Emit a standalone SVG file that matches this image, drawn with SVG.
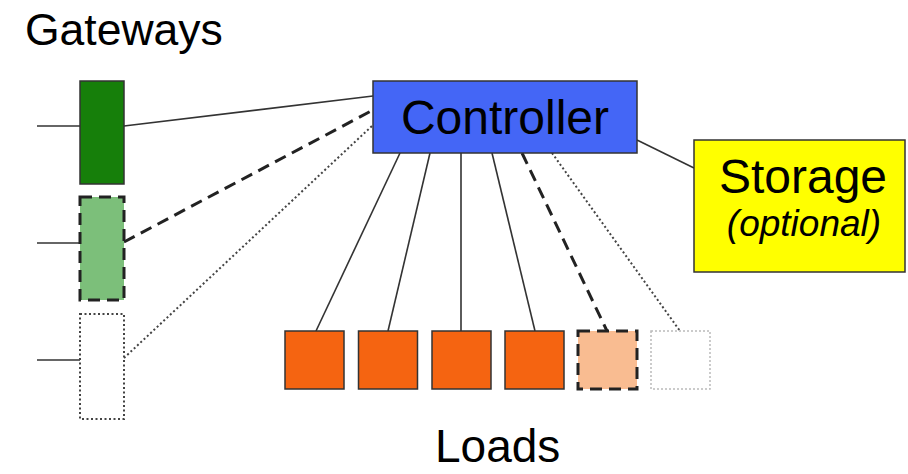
<svg xmlns="http://www.w3.org/2000/svg" width="908" height="474" viewBox="0 0 908 474">
<style>
text{font-family:"Liberation Sans",Arial,sans-serif;fill:#000}
.solid{stroke:#333;stroke-width:1.6;fill:none}
.dash{stroke:#222;stroke-width:3;stroke-dasharray:12,7;fill:none}
.dot{stroke:#444;stroke-width:2;stroke-dasharray:2,2.5;fill:none}
.box{stroke:#333;stroke-width:1.5}
</style>
<rect width="908" height="474" fill="#fff"/>
<text x="25" y="45" font-size="44.5">Gateways</text>
<text x="435" y="462" font-size="46">Loads</text>
<g id="connectors">
<line class="solid" x1="37" y1="126" x2="80" y2="126"/>
<line class="solid" x1="37" y1="243" x2="80" y2="243"/>
<line class="solid" x1="37" y1="360" x2="80" y2="360"/>
<line class="solid" x1="124" y1="126" x2="373" y2="96"/>
<line class="dash" x1="124" y1="242" x2="373" y2="110"/>
<line class="dot" x1="124" y1="358" x2="373" y2="125"/>
<line class="solid" x1="637" y1="140" x2="694" y2="168"/>
<line class="solid" x1="400" y1="153" x2="316" y2="331"/>
<line class="solid" x1="430" y1="153" x2="388" y2="331"/>
<line class="solid" x1="461" y1="153" x2="461" y2="331"/>
<line class="solid" x1="492" y1="153" x2="535" y2="331"/>
<line class="dash" x1="522" y1="153" x2="607" y2="331"/>
<line class="dot" x1="552" y1="153" x2="680" y2="331"/>
</g>
<g id="gateway1"><rect class="box" x="80" y="81" width="44" height="103" fill="#167f0a"/></g>
<g id="gateway2"><rect x="80" y="197" width="44" height="103" fill="#7cbf7a" stroke="#222" stroke-width="3" stroke-dasharray="12,7"/></g>
<g id="gateway3"><rect x="80" y="314" width="44" height="105" fill="#fff" stroke="#444" stroke-width="2" stroke-dasharray="2,2.5"/></g>
<g id="controller">
<rect class="box" x="373" y="81" width="264" height="72" fill="#4466f6"/>
<text x="505" y="134" font-size="48" text-anchor="middle">Controller</text>
</g>
<g id="storage">
<rect class="box" x="694" y="140" width="211" height="132" fill="#ffff00"/>
<text x="803" y="193" font-size="48" text-anchor="middle">Storage</text>
<text x="804" y="236" font-size="37" font-style="italic" text-anchor="middle">(optional)</text>
</g>
<g id="load1"><rect class="box" x="285" y="331" width="59" height="58" fill="#f56411"/></g>
<g id="load2"><rect class="box" x="358.5" y="331" width="59" height="58" fill="#f56411"/></g>
<g id="load3"><rect class="box" x="432" y="331" width="59" height="58" fill="#f56411"/></g>
<g id="load4"><rect class="box" x="505" y="331" width="59" height="58" fill="#f56411"/></g>
<g id="load5"><rect x="578" y="331" width="59" height="58" fill="#f9bc91" stroke="#222" stroke-width="3" stroke-dasharray="12,7"/></g>
<g id="load6"><rect x="651" y="331" width="59" height="58" fill="#fff" stroke="#bbb" stroke-width="1.5" stroke-dasharray="2,2"/></g>
</svg>
